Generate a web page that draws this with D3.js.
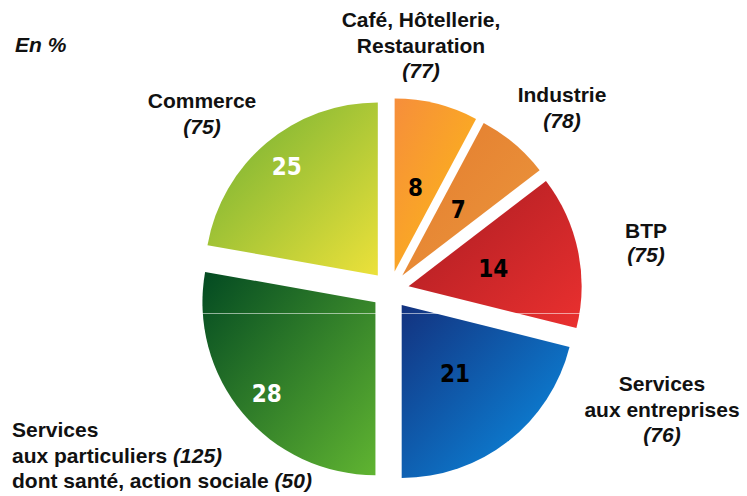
<!DOCTYPE html>
<html>
<head>
<meta charset="utf-8">
<script src="https://cdn.jsdelivr.net/npm/d3@7"></script>
<style>
  body { margin: 0; background: #fff; }
  svg text { font-family: "Liberation Sans", Arial, sans-serif; font-weight: bold; fill: #111; }
  .num { font-family: "DejaVu Sans Condensed", "DejaVu Sans", sans-serif; font-size: 24px; }
</style>
</head>
<body>
<div id="chart"></div>
<script>

// sectors, clockwise from 12 o'clock
var sectors     = ["Café, Hôtellerie, Restauration", "Industrie", "BTP",
                   "Services aux entreprises", "Services aux particuliers", "Commerce"];
var shares      = [7.8, 6.8, 14.3, 21.1, 27.8, 22.2];
// figures printed inside the slices (en %)
var shareLabels = ["8", "7", "14", "21", "28", "25"];
// figures in brackets next to the names
var bracketVals = ["77", "78", "75", "76", "125", "75"];
var santeVal    = "50";

var colors = [
  ["#f68e3b", "#fdbb14"],
  ["#e37c2f", "#ec973c"],
  ["#a91c22", "#ea302f"],
  ["#13327f", "#0a90e6"],
  ["#034a22", "#60b431"],
  ["#6cae33", "#ece13a"]
];

var width  = 747,
    height = 496,
    cx     = 390,
    cy     = 290,
    radius = 173,
    explode = 19;

var svg = d3.select("#chart").append("svg")
  .attr("width", width)
  .attr("height", height);

var defs = svg.append("defs");

colors.forEach(function(c, i) {
  var g = defs.append("linearGradient")
    .attr("id", "grad" + i)
    .attr("x1", 0).attr("y1", 0)
    .attr("x2", 1).attr("y2", 1);
  g.append("stop").attr("offset", "0%").attr("stop-color", c[0]);
  g.append("stop").attr("offset", "100%").attr("stop-color", c[1]);
});

var pie = d3.pie()
  .sort(null)
  .value(function(d) { return d; });

var arc = d3.arc()
  .innerRadius(0)
  .outerRadius(radius);

var arcs = pie(shares);

var chart = svg.append("g")
  .attr("transform", "translate(" + cx + "," + cy + ")");

// push every slice out along its middle angle
function offset(d) {
  var a = (d.startAngle + d.endAngle) / 2;
  return [Math.sin(a) * explode, -Math.cos(a) * explode];
}

var slice = chart.selectAll(".slice")
  .data(arcs)
  .enter().append("g")
  .attr("class", "slice")
  .attr("transform", function(d) {
    var o = offset(d);
    return "translate(" + o[0] + "," + o[1] + ")";
  });

slice.append("path")
  .attr("d", arc)
  .style("fill", function(d, i) { return "url(#grad" + i + ")"; });

// faint seam running across the picture, as in the original image
chart.append("line")
  .attr("x1", -radius - explode).attr("x2", radius + explode)
  .attr("y1", 23.5).attr("y2", 23.5)
  .style("stroke", "#fff")
  .style("stroke-opacity", 0.55)
  .style("stroke-width", 1);

// the two green slices carry white figures, further out
slice.append("text")
  .attr("class", "num")
  .attr("text-anchor", "middle")
  .attr("dy", "0.36em")
  .attr("transform", function(d, i) {
    var a = (d.startAngle + d.endAngle) / 2;
    var r = i >= 4 ? radius * 0.82 : radius * 0.5;
    return "translate(" + (Math.sin(a) * r) + "," + (-Math.cos(a) * r) + ")";
  })
  .style("fill", function(d, i) { return i >= 4 ? "#fff" : "#000"; })
  .text(function(d, i) { return shareLabels[i]; });

// outer labels
var labels = [
  {x: 421, y: 27,  anchor: "middle", lh: 25.5, lines: [["Café, Hôtellerie,"], ["Restauration"], [null, "(" + bracketVals[0] + ")"]]},
  {x: 562, y: 102, anchor: "middle", lh: 25.5, lines: [["Industrie"], [null, "(" + bracketVals[1] + ")"]]},
  {x: 646, y: 238, anchor: "middle", lh: 24,   lines: [["BTP"], [null, "(" + bracketVals[2] + ")"]]},
  {x: 662, y: 391, anchor: "middle", lh: 25.5, lines: [["Services"], ["aux entreprises"], [null, "(" + bracketVals[3] + ")"]]},
  {x: 12,  y: 437, anchor: "start",  lh: 25.5, lines: [["Services"], ["aux particuliers ", "(" + bracketVals[4] + ")"], ["dont santé, action sociale ", "(" + santeVal + ")"]]},
  {x: 202, y: 108, anchor: "middle", lh: 25.5, lines: [["Commerce"], [null, "(" + bracketVals[5] + ")"]]}
];

labels.forEach(function(l) {
  var t = svg.append("text")
    .attr("text-anchor", l.anchor)
    .style("font-size", "21px");
  l.lines.forEach(function(parts, j) {
    var line = t.append("tspan")
      .attr("x", l.x)
      .attr("y", l.y + j * l.lh);
    if (parts[0]) line.append("tspan").text(parts[0]);
    if (parts[1]) line.append("tspan").style("font-style", "italic").text(parts[1]);
  });
});

svg.append("text")
  .attr("x", 15)
  .attr("y", 52)
  .style("font-size", "21px")
  .style("font-style", "italic")
  .text("En %");

</script>
</body>
</html>
